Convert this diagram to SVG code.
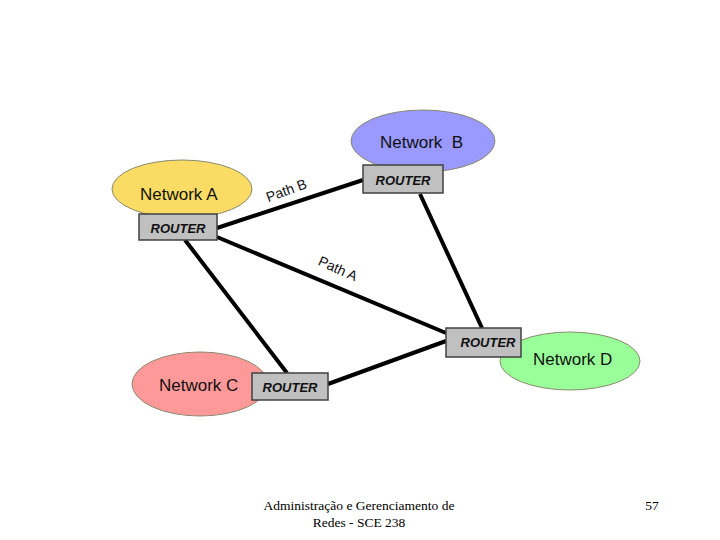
<svg xmlns="http://www.w3.org/2000/svg" width="720" height="540" viewBox="0 0 720 540">
<style>
.net{stroke:#8a8a70;stroke-width:1}
.nt{font-family:"Liberation Sans",Arial,sans-serif;font-size:17px;fill:#111}
.rt{fill:#c0c0c0;stroke:#404040;stroke-width:1.5}
.rl{font-family:"Liberation Sans",Arial,sans-serif;font-size:13px;font-weight:bold;font-style:italic;fill:#111;text-anchor:middle}
.ln{stroke:#000;stroke-width:4;fill:none;stroke-linecap:butt}
.pl{font-family:"Liberation Sans",Arial,sans-serif;font-size:14px;fill:#111;text-anchor:middle}
.ft{font-family:"Liberation Serif","Times New Roman",serif;font-size:13.5px;fill:#000;text-anchor:middle}
</style>
<rect width="720" height="540" fill="#fff"/>
<g id="connectors">
<line class="ln" x1="217" y1="228" x2="363" y2="180"/>
<line class="ln" x1="217" y1="237" x2="446" y2="333"/>
<line class="ln" x1="185" y1="240" x2="287" y2="373"/>
<line class="ln" x1="420" y1="194" x2="482" y2="328"/>
<line class="ln" x1="328" y1="384" x2="446" y2="341"/>
<text class="pl" transform="translate(288,195) rotate(-20)">Path B</text>
<text class="pl" transform="translate(336,273) rotate(24)">Path A</text>
</g>
<g id="network-a">
<ellipse class="net" cx="182" cy="189" rx="70" ry="29" fill="#fadc64"/>
<text class="nt" x="140" y="200">Network A</text>
</g>
<g id="network-b">
<ellipse class="net" cx="423" cy="141" rx="72" ry="31" fill="#9999ff"/>
<text class="nt" x="380" y="148" xml:space="preserve">Network  B</text>
</g>
<g id="network-c">
<ellipse class="net" cx="200" cy="384" rx="68" ry="32" fill="#ff9999"/>
<text class="nt" x="159" y="391">Network C</text>
</g>
<g id="network-d">
<ellipse class="net" cx="570" cy="361" rx="70" ry="29" fill="#99ff99"/>
<text class="nt" x="533" y="365">Network D</text>
</g>
<g id="router-a">
<rect class="rt" x="139" y="214" width="78" height="26"/>
<text class="rl" x="178" y="233">ROUTER</text>
</g>
<g id="router-b">
<rect class="rt" x="363" y="165" width="80" height="28"/>
<text class="rl" x="403" y="185">ROUTER</text>
</g>
<g id="router-c">
<rect class="rt" x="252" y="373" width="76" height="27"/>
<text class="rl" x="290" y="392">ROUTER</text>
</g>
<g id="router-d">
<rect class="rt" x="446" y="328" width="75" height="29"/>
<text class="rl" x="488" y="347">ROUTER</text>
</g>
<g id="footer">
<text class="ft" x="359" y="510">Administração e Gerenciamento de</text>
<text class="ft" x="359" y="527">Redes - SCE 238</text>
<text class="ft" x="652" y="510">57</text>
</g>
</svg>
